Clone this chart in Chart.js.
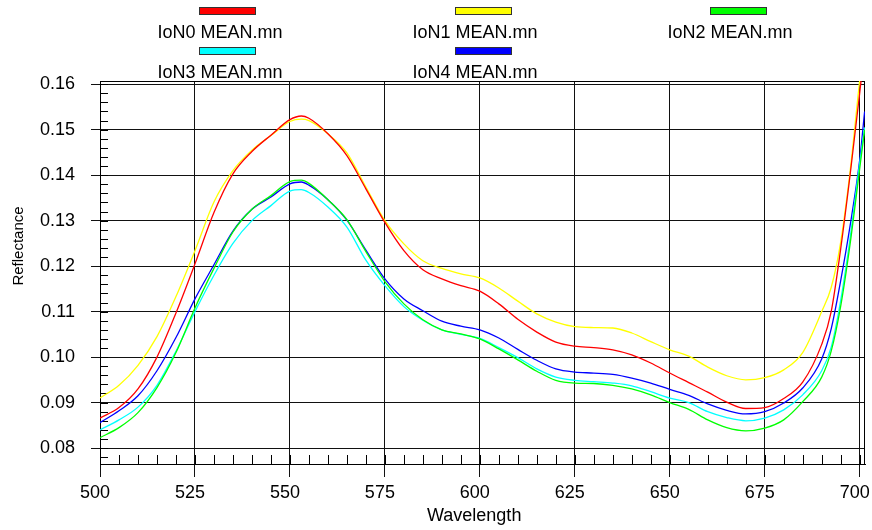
<!DOCTYPE html>
<html>
<head>
<meta charset="utf-8">
<script src="https://cdn.jsdelivr.net/npm/chart.js@4.4.0/dist/chart.umd.min.js"></script>
<style>
  body { margin: 0; background: #fff; }
  #wrap { position: relative; width: 872px; height: 530px; font-family: "Liberation Sans", Arial, sans-serif; color: #000; }
  #chart { position: absolute; left: 0; top: 0; }
  .sw { position: absolute; width: 55px; height: 6px; border: 1px solid #333; }
  .lt { position: absolute; width: 200px; text-align: center; font-size: 18px; line-height: 18px; white-space: nowrap; }
  .axt { position: absolute; font-size: 18px; line-height: 18px; white-space: nowrap; }
  #ytitle { width: 120px; text-align: center; font-size: 15px; transform: rotate(-90deg); }
</style>
</head>
<body>
<div id="wrap">
  <canvas id="chart" width="872" height="530"></canvas>
  <div id="legend"></div>
  <div class="axt" id="xtitle" style="left:427px; top:506px;">Wavelength</div>
  <div class="axt" id="ytitle" style="left:-42px; top:237px;">Reflectance</div>
</div>
<script>
// Dữ liệu phổ phản xạ
const wavelength = [500, 505, 510, 515, 520, 525, 530, 535, 540, 545, 550, 553, 555, 560, 565, 570, 575, 580, 585, 590,
  595, 600, 605, 610, 615, 620, 625, 630, 635, 640, 645, 650, 655, 660, 665, 670, 675, 680, 685, 690,
  692.5, 695, 697.5, 700, 701.3];

const ion0 = [0.0866, 0.0889, 0.0930, 0.1000, 0.1097, 0.1205, 0.1318, 0.1403, 0.1452, 0.1488, 0.1522, 0.1530, 0.1525, 0.1491, 0.1443, 0.1370, 0.1296, 0.1234, 0.1192, 0.1172,
  0.1157, 0.1145, 0.1117, 0.1083, 0.1055, 0.1033, 0.1024, 0.1021, 0.1016, 0.1005, 0.0987, 0.0965, 0.0944, 0.0923, 0.0901, 0.0887, 0.0889, 0.0909, 0.0945, 0.1028,
  0.1100, 0.1238, 0.1402, 0.1580, 0.1680];
const ion1 = [0.0910, 0.0938, 0.0982, 0.1045, 0.1133, 0.1234, 0.1341, 0.1410, 0.1455, 0.1487, 0.1518, 0.1523, 0.1520, 0.1491, 0.1449, 0.1374, 0.1300, 0.1249, 0.1212, 0.1195,
  0.1183, 0.1174, 0.1152, 0.1123, 0.1095, 0.1077, 0.1067, 0.1065, 0.1064, 0.1053, 0.1034, 0.1016, 0.1002, 0.0978, 0.0959, 0.0950, 0.0955, 0.0972, 0.1010, 0.1100,
  0.1153, 0.1253, 0.1410, 0.1608, 0.1700];
const ion2 = [0.0823, 0.0845, 0.0878, 0.0933, 0.1010, 0.1108, 0.1195, 0.1275, 0.1325, 0.1355, 0.1386, 0.1389, 0.1382, 0.1346, 0.1302, 0.1232, 0.1166, 0.1117, 0.1082, 0.1060,
  0.1051, 0.1040, 0.1018, 0.0994, 0.0969, 0.0949, 0.0943, 0.0942, 0.0938, 0.0930, 0.0917, 0.0900, 0.0885, 0.0862, 0.0845, 0.0838, 0.0844, 0.0862, 0.0902, 0.0956,
  0.1013, 0.1112, 0.1250, 0.1414, 0.1500];
const ion3 = [0.0840, 0.0862, 0.0890, 0.0938, 0.1013, 0.1100, 0.1180, 0.1250, 0.1300, 0.1333, 0.1365, 0.1368, 0.1362, 0.1330, 0.1286, 0.1213, 0.1157, 0.1111, 0.1081, 0.1060,
  0.1050, 0.1041, 0.1021, 0.0999, 0.0974, 0.0956, 0.0949, 0.0946, 0.0943, 0.0937, 0.0924, 0.0910, 0.0900, 0.0880, 0.0867, 0.0860, 0.0866, 0.0884, 0.0917, 0.0970,
  0.1022, 0.1125, 0.1263, 0.1426, 0.1505];
const ion4 = [0.0856, 0.0882, 0.0915, 0.0970, 0.1043, 0.1128, 0.1203, 0.1277, 0.1325, 0.1352, 0.1381, 0.1385, 0.1378, 0.1346, 0.1301, 0.1235, 0.1172, 0.1128, 0.1102, 0.1079,
  0.1068, 0.1060, 0.1042, 0.1017, 0.0993, 0.0974, 0.0967, 0.0965, 0.0962, 0.0954, 0.0943, 0.0929, 0.0916, 0.0897, 0.0883, 0.0875, 0.0880, 0.0899, 0.0932, 0.0996,
  0.1062, 0.1168, 0.1290, 0.1433, 0.1540];

const seriesNames = ['IoN0 MEAN.mn', 'IoN1 MEAN.mn', 'IoN2 MEAN.mn', 'IoN3 MEAN.mn', 'IoN4 MEAN.mn'];
const seriesColors = ['#ff0000', '#ffff00', '#00ff00', '#00ffff', '#0000ff'];
const seriesData = [ion0, ion1, ion2, ion3, ion4];

const xTicks = [500, 525, 550, 575, 600, 625, 650, 675, 700];
const yTicks = [0.08, 0.09, 0.10, 0.11, 0.12, 0.13, 0.14, 0.15, 0.16];

// Chú thích dạng HTML: ô màu phía trên, tên phía dưới
const legendSlots = [
  { sx: 199, tx: 120, row: 0 }, { sx: 455, tx: 375, row: 0 }, { sx: 710, tx: 630, row: 0 },
  { sx: 199, tx: 120, row: 1 }, { sx: 455, tx: 375, row: 1 }
];
const legendEl = document.getElementById('legend');
seriesNames.forEach((name, i) => {
  const slot = legendSlots[i];
  const sw = document.createElement('div');
  sw.className = 'sw';
  sw.style.left = slot.sx + 'px';
  sw.style.top = (7 + slot.row * 40) + 'px';
  sw.style.background = seriesColors[i];
  legendEl.appendChild(sw);
  const lt = document.createElement('div');
  lt.className = 'lt';
  lt.style.left = slot.tx + 'px';
  lt.style.top = (23 + slot.row * 40) + 'px';
  lt.textContent = name;
  legendEl.appendChild(lt);
});

// Khung + vạch chia phụ bên trong vùng vẽ
const framePlugin = {
  id: 'frame',
  beforeDatasetsDraw(chart) {
    const { ctx, chartArea: a, scales: { x, y } } = chart;
    ctx.save();
    ctx.strokeStyle = '#000';
    ctx.lineWidth = 1;
    ctx.beginPath();
    for (let i = 101; i <= 140; i++) {
      const px = Math.round(x.getPixelForValue(i * 5)) + 0.5;
      ctx.moveTo(px, a.bottom);
      ctx.lineTo(px, a.bottom - 9);
    }
    for (let i = 39; i <= 80; i++) {
      const py = Math.round(y.getPixelForValue(i * 0.002)) + 0.5;
      ctx.moveTo(a.left, py);
      ctx.lineTo(a.left + 8, py);
    }
    ctx.stroke();
    ctx.strokeRect(Math.round(a.left) + 0.5, Math.round(a.top) + 0.5, Math.round(a.width) - 1, Math.round(a.height));
    ctx.restore();
  }
};

const fontFamily = '"Liberation Sans", Arial, sans-serif';

new Chart(document.getElementById('chart'), {
  type: 'line',
  data: {
    datasets: seriesNames.map((name, i) => ({
      label: name,
      data: wavelength.map((w, j) => ({ x: w, y: seriesData[i][j] })),
      borderColor: seriesColors[i],
      backgroundColor: seriesColors[i],
      borderWidth: 1.3,
      pointRadius: 0,
      cubicInterpolationMode: 'monotone',
      fill: false
    }))
  },
  options: {
    responsive: false,
    devicePixelRatio: 1,
    animation: false,
    layout: { padding: { top: 81, right: 7, left: 0, bottom: 0 } },
    plugins: {
      legend: { display: false },
      tooltip: { enabled: false }
    },
    scales: {
      x: {
        type: 'linear',
        min: 500,
        max: 701.4,
        bounds: 'data',
        afterBuildTicks: s => { s.ticks = xTicks.map(v => ({ value: v })); },
        afterFit: s => { s.height = 66; s.paddingLeft = 0; s.paddingRight = 0; },
        grid: { color: '#111', lineWidth: 1, drawTicks: true, tickLength: 13, tickColor: '#111' },
        border: { display: true, color: '#000' },
        ticks: {
          color: '#000', padding: 5, maxRotation: 0, autoSkip: false, labelOffset: -5,
          font: { family: fontFamily, size: 18 },
          callback: v => String(v)
        }
      },
      y: {
        type: 'linear',
        min: 0.0765,
        max: 0.1607,
        bounds: 'data',
        afterBuildTicks: s => { s.ticks = yTicks.map(v => ({ value: v })); },
        afterFit: s => { s.width = 100; s.paddingTop = 0; s.paddingBottom = 0; },
        grid: { color: '#111', lineWidth: 1, drawTicks: true, tickLength: 9, tickColor: '#111' },
        border: { display: true, color: '#000' },
        ticks: {
          color: '#000', padding: 16, autoSkip: false,
          font: { family: fontFamily, size: 18 },
          callback: v => v.toFixed(2)
        }
      }
    }
  },
  plugins: [framePlugin]
});
</script>
</body>
</html>
